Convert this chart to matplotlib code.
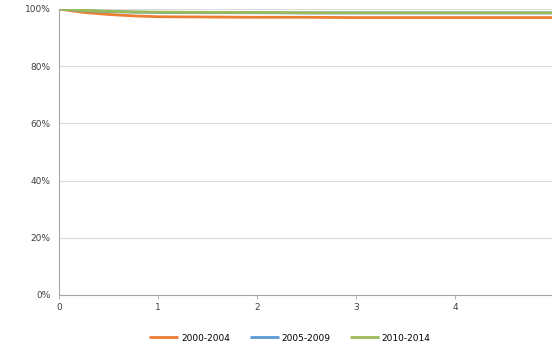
import matplotlib
matplotlib.use("Agg")
import matplotlib.pyplot as plt
from matplotlib.ticker import FuncFormatter

years = [0, 0.25, 0.5, 0.75, 1, 1.5, 2, 2.5, 3, 3.5, 4, 4.5, 5]
s_2000_2004 = [1.0, 0.988, 0.981, 0.976, 0.973, 0.972, 0.971, 0.971, 0.970, 0.970, 0.970, 0.970, 0.970]
s_2005_2009 = [1.0, 0.994, 0.991, 0.989, 0.988, 0.987, 0.987, 0.986, 0.986, 0.986, 0.986, 0.986, 0.986]
s_2010_2014 = [1.0, 0.995, 0.992, 0.990, 0.989, 0.988, 0.988, 0.987, 0.987, 0.987, 0.987, 0.987, 0.987]
labels = ["2000-2004", "2005-2009", "2010-2014"]
colors = ["#ED7D31", "#5B9BD5", "#9BBB59"]

fig = plt.figure(figsize=(5.52, 3.44), dpi=100)
ax = fig.add_axes([59/552, 1 - 295/344, 495/552, (295 - 9)/344])

for ys, lab, c in zip([s_2000_2004, s_2005_2009, s_2010_2014], labels, colors):
    ax.plot(years, ys, color=c, lw=2.0, label=lab, solid_capstyle="butt")

ax.set_xlim(0, 5)
ax.set_ylim(0, 1.0)
ax.set_yticks([0, 0.2, 0.4, 0.6, 0.8, 1.0])
ax.set_xticks([0, 1, 2, 3, 4, 5])
ax.yaxis.set_major_formatter(FuncFormatter(lambda v, p: f"{int(round(v*100))}%"))
ax.grid(axis="y", color="#D9D9D9", lw=0.8)
ax.set_axisbelow(True)
for sp in ["top", "right"]:
    ax.spines[sp].set_visible(False)
ax.spines["left"].set_color("#A6A6A6")
ax.spines["bottom"].set_color("#A6A6A6")
ax.tick_params(axis="both", labelsize=6.5, colors="#404040", length=3, width=0.6)
ax.tick_params(axis="x", color="#A6A6A6", pad=3)
ax.tick_params(axis="y", length=0, pad=6)

ax.legend(loc="upper center", bbox_to_anchor=(290/552, 14/344), bbox_transform=fig.transFigure,
          ncol=3, frameon=False, fontsize=6.5, handlelength=3.2, columnspacing=2.2,
          handletextpad=0.3, borderaxespad=0)

fig.savefig("out.png", dpi=100)
